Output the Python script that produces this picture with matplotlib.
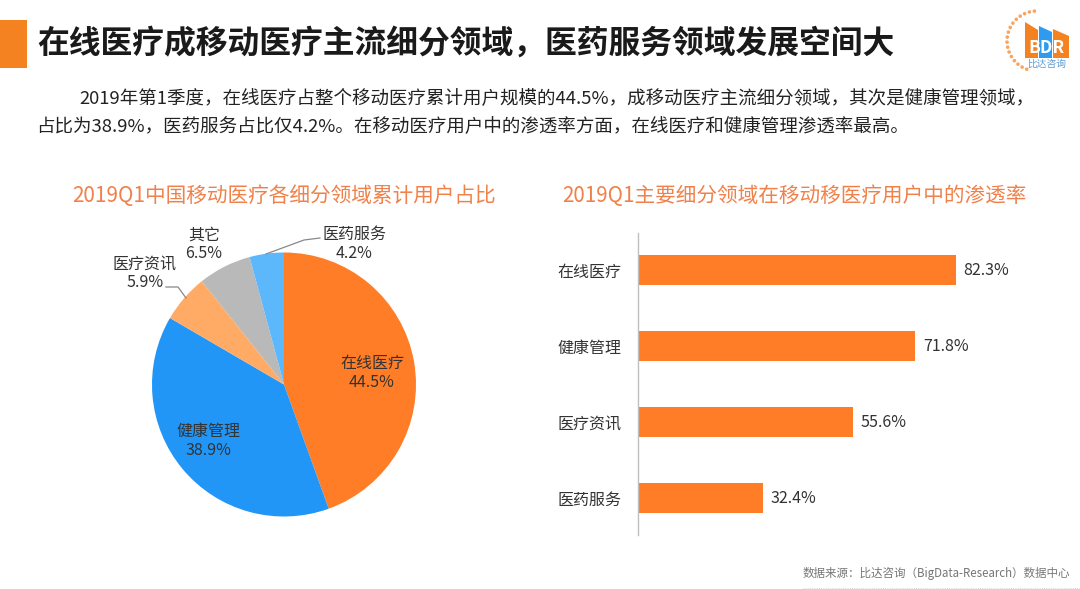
import numpy as np
import matplotlib
matplotlib.use("Agg")
import matplotlib.pyplot as plt
from matplotlib.patches import Rectangle, Polygon, Circle

plt.rcParams['font.family'] = ['Noto Sans CJK SC', 'DejaVu Sans']

W, H = 1080, 589
ORANGE = '#FF7D26'
TEXT = '#333333'

title = '在线医疗成移动医疗主流细分领域，医药服务领域发展空间大'
para1 = '2019年第1季度，在线医疗占整个移动医疗累计用户规模的44.5%，成移动医疗主流细分领域，其次是健康管理领域，'
para2 = '占比为38.9%，医药服务占比仅4.2%。在移动医疗用户中的渗透率方面，在线医疗和健康管理渗透率最高。'
pie_title = '2019Q1中国移动医疗各细分领域累计用户占比'
bar_title = '2019Q1主要细分领域在移动移医疗用户中的渗透率'
source = '数据来源：比达咨询（BigData-Research）数据中心'

pie_labels = ['在线医疗', '健康管理', '医疗资讯', '其它', '医药服务']
pie_values = [44.5, 38.9, 5.9, 6.5, 4.2]
pie_colors = ['#FF7D26', '#2196F7', '#FFAB66', '#B9B9B9', '#5DB8FB']

bar_labels = ['在线医疗', '健康管理', '医疗资讯', '医药服务']
bar_values = [82.3, 71.8, 55.6, 32.4]

fig = plt.figure(figsize=(W / 100, H / 100), dpi=100, facecolor='white')
bg = fig.add_axes([0, 0, 1, 1])
bg.set_xlim(0, W)
bg.set_ylim(H, 0)
bg.axis('off')
bg.set_zorder(5)

# header
bg.add_patch(Rectangle((0, 20), 27, 48, color='#F58220', lw=0))
bg.text(37, 44, title, fontsize=22.9, fontweight='bold', color='#1a1a1a', va='center', ha='left')
bg.text(79, 99, para1, fontsize=13.3, color='#222222', va='center', ha='left')
bg.text(36, 127, para2, fontsize=13.3, color='#222222', va='center', ha='left')
bg.text(284, 196, pie_title, fontsize=14.9, color='#F0814A', va='center', ha='center')
bg.text(794, 196, bar_title, fontsize=14.85, color='#F0814A', va='center', ha='center')
bg.text(936, 573, source, fontsize=8.3, color='#777777', va='center', ha='center')
bg.plot([803, 1080], [588, 588], color='#cccccc', lw=0.6, ls=':')

# logo
for a in np.linspace(95, 250, 17):
    r = 30
    bg.add_patch(Circle((1037 + r * np.cos(np.radians(a)), 41 - r * np.sin(np.radians(a))), 1.8,
                        color='#F79646', lw=0, alpha=0.85))
bg.add_patch(Polygon([(1025, 22), (1038, 30), (1038, 58), (1025, 58)], color='#F58220', lw=0))
bg.add_patch(Polygon([(1039, 26), (1052, 32), (1052, 58), (1039, 58)], color='#2F9BF0', lw=0))
bg.add_patch(Polygon([(1053, 29), (1069, 36), (1069, 58), (1053, 58)], color='#F58220', lw=0))
bg.text(1047, 48, 'BDR', fontsize=12.5, fontweight='bold', color='white', va='center', ha='center')
bg.text(1047, 64, '比达咨询', fontsize=7, color='#5B9BD5', va='center', ha='center')

# pie
pcx, pcy, pr = 284, 384.5, 132
pie_ax = fig.add_axes([(pcx - pr) / W, 1 - (pcy + pr) / H, 2 * pr / W, 2 * pr / H])
pie_ax.pie(pie_values, colors=pie_colors, startangle=90, counterclock=False, radius=1,
           wedgeprops=dict(linewidth=0))
pie_ax.set_xlim(-1, 1)
pie_ax.set_ylim(-1, 1)

lab = dict(fontsize=11.5, color=TEXT, ha='center', va='center', linespacing=1.12)
bg.text(372, 373, f'{pie_labels[0]}\n{pie_values[0]}%', **lab)
bg.text(208, 441, f'{pie_labels[1]}\n{pie_values[1]}%', **lab)
bg.text(145, 273, f'{pie_labels[2]}\n{pie_values[2]}%', **lab)
bg.text(204, 244, f'{pie_labels[3]}\n{pie_values[3]}%', **lab)
bg.text(354, 244, f'{pie_labels[4]}\n{pie_values[4]}%', **lab)
bg.plot([166, 178, 186], [287, 287, 298], color='#888888', lw=0.9)
bg.plot([266, 304, 320], [254, 240, 238], color='#888888', lw=0.9)

# bars
ax_l, ax_r, ax_t, ax_b = 638, 1026, 233, 535
bar_ax = fig.add_axes([ax_l / W, 1 - ax_b / H, (ax_r - ax_l) / W, (ax_b - ax_t) / H])
bar_ax.patch.set_alpha(0)
y = np.arange(len(bar_values))
bar_ax.barh(y, bar_values, height=0.405, color=ORANGE, linewidth=0)
bar_ax.set_xlim(0, (ax_r - ax_l) / 3.864)
bar_ax.set_ylim(3.487, -0.487)
bar_ax.set_yticks(y, bar_labels, fontsize=11.5, color=TEXT)
bar_ax.set_xticks([])
bar_ax.tick_params(axis='y', length=0, pad=12)
for s in ('top', 'right', 'bottom'):
    bar_ax.spines[s].set_visible(False)
bar_ax.spines['left'].set_color('#BFBFBF')
bar_ax.spines['left'].set_linewidth(1)
for yi, v in zip(y, bar_values):
    bar_ax.annotate(f'{v}%', (v, yi), xytext=(5.5, -0.7), textcoords='offset points',
                    fontsize=11.5, color=TEXT, va='center', ha='left')

fig.savefig('out.png', dpi=100)
